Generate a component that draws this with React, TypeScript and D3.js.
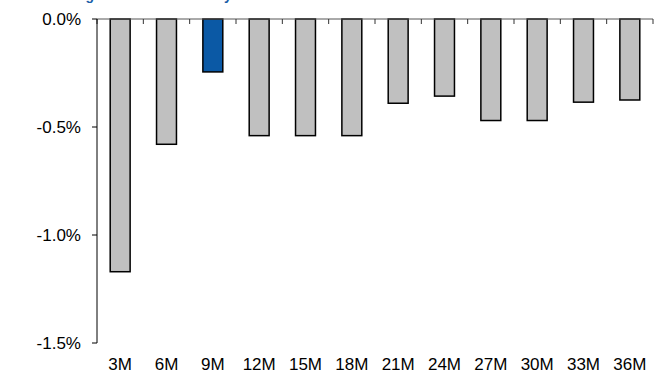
import React from "react";
import * as d3 from "d3";

const categories = ["3M", "6M", "9M", "12M", "15M", "18M", "21M", "24M", "27M", "30M", "33M", "36M"];
const values = [-1.17, -0.58, -0.245, -0.54, -0.54, -0.54, -0.39, -0.357, -0.47, -0.47, -0.385, -0.375];
const highlight = ["9M"];
const yTicks = [0, -0.5, -1.0, -1.5];
const yTickLabels = ["0.0%", "-0.5%", "-1.0%", "-1.5%"];
const title = "Annual rolling cost of the currency forward";

const W = 658;
const H = 383;
const left = 97;
const right = 653;
const top = 19;
const bottom = 343;

export default function App() {
  const x = d3.scaleBand<string>().domain(categories).range([left, right]).paddingInner(0.57).paddingOuter(0.285);
  const y = d3.scaleLinear().domain([-1.5, 0]).range([bottom, top]);
  const step = x.step();
  const font = "Arial, 'Liberation Sans', sans-serif";
  const boundaries = d3.range(categories.length + 1).map((i) => left + i * step);

  return (
    <svg width={W} height={H} style={{ position: "absolute", left: 0, top: 0, background: "#fff" }}>
      <text x={0} y={0} fontFamily={font} fontWeight="bold" fontSize={14} fill="#1a5ea8">
        {title}
      </text>
      {categories.map((c, i) => {
        const v = values[i];
        const y0 = y(0);
        const y1 = y(v);
        const hl = highlight.includes(c);
        return (
          <rect
            key={c}
            x={x(c)!}
            y={Math.min(y0, y1)}
            width={x.bandwidth()}
            height={Math.abs(y1 - y0)}
            fill={hl ? "#0b59a5" : "#c0c0c0"}
            stroke="#000"
            strokeWidth={1.5}
          />
        );
      })}
      <line x1={left} x2={right} y1={y(0)} y2={y(0)} stroke="#555" strokeWidth={1} />
      {boundaries.map((bx, i) => (
        <line key={i} x1={bx} x2={bx} y1={y(0)} y2={y(0) + 5} stroke="#333" strokeWidth={1} />
      ))}
      <line x1={left} x2={left} y1={top} y2={bottom} stroke="#000" strokeWidth={1} />
      {yTicks.map((t, i) => (
        <g key={t}>
          <line x1={left - 5} x2={left} y1={y(t)} y2={y(t)} stroke="#000" strokeWidth={1} />
          <text x={81} y={y(t)} dy="0.35em" textAnchor="end" fontFamily={font} fontSize={17} fill="#000">
            {yTickLabels[i]}
          </text>
        </g>
      ))}
      {categories.map((c) => (
        <text key={c} x={x(c)! + x.bandwidth() / 2} y={370} textAnchor="middle" fontFamily={font} fontSize={17} fill="#000">
          {c}
        </text>
      ))}
    </svg>
  );
}
